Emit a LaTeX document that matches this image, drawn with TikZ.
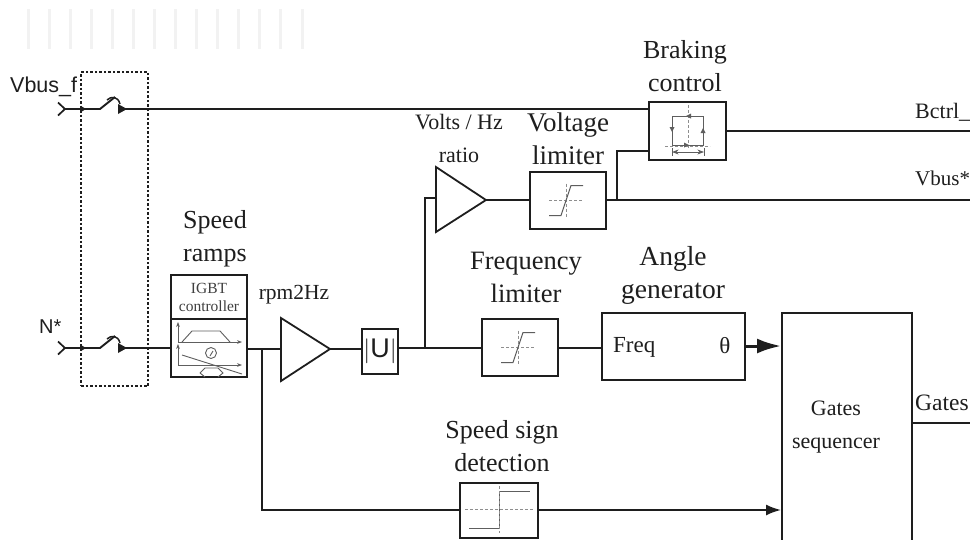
\documentclass[tikz,border=0pt]{standalone}
\usepackage{fontspec}
\setmainfont{Liberation Serif}
\newfontfamily\arialf{Liberation Sans}
\usetikzlibrary{arrows.meta}
\definecolor{ink}{HTML}{1E1E1E}
\definecolor{soft}{HTML}{5E5E5E}
\tikzset{
  x=1pt,y=-1pt,
  blockbox/.style={draw=ink,line width=2pt,fill=white,inner sep=0pt,minimum width=#1},
  wire/.style={draw=ink,line width=1.9pt},
  thin icon/.style={draw=soft,line width=1pt},
  dash icon/.style={draw=soft!70,line width=.8pt,densely dashed},
  capt/.style={font=\fontsize{#1}{33}\selectfont,align=center,text=ink,inner sep=0pt},
  sanscap/.style={font=\arialf\fontsize{#1}{24}\selectfont,text=ink,inner sep=0pt},
  satur/.pic={
    \draw[dash icon] (-17,0) -- (17,0);
    \draw[dash icon] (0,-17) -- (0,17);
    \draw[thin icon] (-17,15) -- (-5,15) -- (5,-15) -- (17,-15);
  },
  switchsym/.pic={
    \draw[ink,line width=1.9pt] (-38,0) -- (-18,0) -- (-3,-12);
    \draw[ink,line width=1.5pt] (-11,-9) .. controls (-7,-13) and (0,-13) .. (2,-5);
    \fill[ink] (0,-5) -- (9,0) -- (0,5) -- cycle;
    \fill[ink] (-37,-3) -- (-32,0) -- (-37,3) -- cycle;
  },
  inchev/.pic={
    \draw[ink,line width=1.7pt] (-7,-6.5) -- (0,0) -- (-7,6.5);
  }
}
\begin{document}
\begin{tikzpicture}
\useasboundingbox (0,0) rectangle (970,539);
\clip (0,0) rectangle (970,539);
\fill[white] (0,0) rectangle (970,539);
% faint bars at the top
\foreach \bx in {28,49,70,91,112,133,154,175,196,217,238,259,280,302}
  \fill[black!5] (\bx-1.5,9) rectangle (\bx+1.5,49);

% blocks
\node[blockbox=76pt,minimum height=102pt] (ramps) at (209,326) {};
\node[blockbox=36pt,minimum height=45pt,font=\arialf\fontsize{27}{27}\selectfont,text=ink] (abs) at (380,351.5) {$|$U$|$};
\node[blockbox=76pt,minimum height=57pt] (flim) at (520,347.5) {};
\node[blockbox=143pt,minimum height=67pt] (angle) at (673.5,346.5) {};
\node[blockbox=130pt,minimum height=240pt] (gates) at (847,433) {};
\node[blockbox=76pt,minimum height=57pt] (vlim) at (568,200.5) {};
\node[blockbox=77pt,minimum height=58pt] (brake) at (687.5,131) {};
\node[blockbox=78pt,minimum height=55pt] (sign) at (499,510) {};

% junctions and free ends
\coordinate (vin)  at (65,109);
\coordinate (nin)  at (65,348);
\coordinate (sw1)  at (118,109);
\coordinate (sw2)  at (118,348);
\coordinate (jr)   at (262,349);
\coordinate (ju)   at (425,348);
\coordinate (jv)   at (617,200);
\coordinate (rpmin) at (281,349);
\coordinate (rpmout) at (330,349);
\coordinate (vhzin) at (436,198);
\coordinate (vhzout) at (486,200);
\coordinate (bctrl) at (970,131);
\coordinate (vbus) at (970,200);
\coordinate (gout) at (970,423);

% wires
\draw[wire] (sw1) -- (brake.west |- sw1);
\draw[wire] (nin) -- (82,348);
\draw[wire] (vin) -- (82,109);
\draw[wire] (sw2) -- (ramps.west |- sw2);
\draw[wire] (ramps.east |- jr) -- (rpmin);
\draw[wire] (rpmout) -- (abs.west |- rpmout);
\draw[wire] (abs.east |- ju) -- (flim.west |- ju);
\draw[wire] (flim.east |- ju) -- (angle.west |- ju);
\draw[wire] (ju) -- (ju |- vhzin) -- (vhzin);
\draw[wire] (vhzout) -- (vlim.west |- vhzout);
\draw[wire] (vlim.east |- jv) -- (vbus);
\draw[wire] (jv) -- (617,151) -- (brake.west |- 0,151);
\draw[wire] (brake.east |- bctrl) -- (bctrl);
\draw[wire] (gates.east |- gout) -- (gout);
\draw[wire] (jr) -- (jr |- sign.west) -- (sign.west);
\draw[wire,-{Latex[length=15pt,width=11pt]}] (sign.east) -- (gates.west |- sign.east);
\draw[ink,line width=3pt,-{Latex[length=24pt,width=15pt]}] (angle.east |- 0,346) -- (gates.west |- 0,346);

% triangles
\draw[draw=ink,line width=1.8pt,fill=white] (rpmin |- 0,318) -- (rpmin |- 0,381) -- (rpmout) -- cycle;
\draw[draw=ink,line width=1.8pt,fill=white] (vhzin |- 0,167) -- (vhzin |- 0,232) -- (vhzout) -- cycle;

% dashed enclosure
\node[draw=ink,line width=1.5pt,dash pattern=on 2.5pt off 2pt,minimum width=67pt,minimum height=314pt,inner sep=0pt] (group) at (114.5,229) {};

% switches and inputs
\pic at (vin) {inchev};
\pic at (nin) {inchev};
\pic at (sw1) {switchsym};
\pic at (sw2) {switchsym};

% icons
\pic at ([xshift=-2pt]flim.center) {satur};
\pic at ([xshift=-2pt]vlim.center) {satur};
% speed sign
\draw[dash icon] (465,509.5) -- (533,509.5);
\draw[soft,line width=1pt] (469,528) -- (499,528) -- (499,491) -- (530,491);
\draw[dash icon] (499,486) -- (499,533);
% hysteresis
\draw[dash icon] (665,146) -- (710,146);
\draw[dash icon] (688,105) -- (688,148);
\draw[soft,line width=1pt] (672,145) -- (672,116) -- (703,116) -- (703,145) -- cycle;
\draw[soft,line width=.8pt,<->,>=Stealth] (672,152) -- (704,152);
\draw[soft,line width=.8pt] (672,148) -- (672,156) (704,148) -- (704,156);
\foreach \ax/\ay/\ang in {672/130/-90,703/130/90,688/116/180,687/145/0}
  \fill[soft,shift={(\ax,\ay)},rotate=\ang] (-3,-2.5) -- (2,0) -- (-3,2.5) -- cycle;
% speed ramps
\draw[ink,line width=1.6pt] (ramps.west |- 0,319) -- (ramps.east |- 0,319);
\node[font=\fontsize{15.5}{18}\selectfont,align=center,text=ink!85,inner sep=0pt] (igbt) at (209,297) {IGBT\\controller};
\begin{scope}[draw=soft,line width=.9pt]
  \draw[-{Stealth[length=5pt]}] (178,342) -- (178,322);
  \draw[-{Stealth[length=5pt]}] (178,342) -- (242,342);
  \draw (182,342) -- (192,331) -- (220,331) -- (230,342);
  \draw[-{Stealth[length=5pt]}] (178,365) -- (178,344);
  \draw[-{Stealth[length=5pt]}] (178,365) -- (242,365);
  \draw (182,355) -- (242,374);
  \draw (200,373) -- (205,368) -- (218,368) -- (223,373) -- (218,377) (205,377) -- (200,373);
  \draw (211,353) circle (5.5);
  \draw (210,356) -- (213,351);
\end{scope}

% captions
\node[capt=26] (lbrake) at (685,66.5) {Braking\\control};
\node[capt=22] (lvhz) at (459,138.5) {Volts / Hz\\ratio};
\node[capt=27] (lvlim) at (568,138.5) {Voltage\\limiter};
\node[capt=26] (lramps) at (215,238.5) {Speed\\ramps};
\node[capt=21.5] (lrpm) at (294,295) {rpm2Hz};
\node[capt=26.5] (lflim) at (526,277.5) {Frequency\\limiter};
\node[capt=27.5] (lang) at (673,275) {Angle\\generator};
\node[capt=26] (lsign) at (502,446) {Speed sign\\detection};
\node[capt=22] (lgates) at (836,427) {Gates\\sequencer};
\node[font=\fontsize{23}{26}\selectfont,text=ink,inner sep=0pt,anchor=west] (lfreq) at (613,347) {Freq};
\node[font=\fontsize{23}{26}\selectfont,text=ink,inner sep=0pt] (ltheta) at (725,346) {θ};
\node[font=\fontsize{22}{26}\selectfont,text=ink,inner sep=0pt,anchor=west] (lb) at (915,112) {Bctrl\_};
\node[font=\fontsize{21}{26}\selectfont,text=ink,inner sep=0pt,anchor=west] (lv) at (915,178) {Vbus*};
\node[font=\fontsize{23.5}{26}\selectfont,text=ink,inner sep=0pt,anchor=west] (lg) at (915,403) {Gates};
\node[sanscap=21.5,anchor=west] (lvf) at (10,87) {Vbus\_f};
\node[sanscap=20,anchor=west] (ln) at (39,327) {N*};
\end{tikzpicture}
\end{document}
